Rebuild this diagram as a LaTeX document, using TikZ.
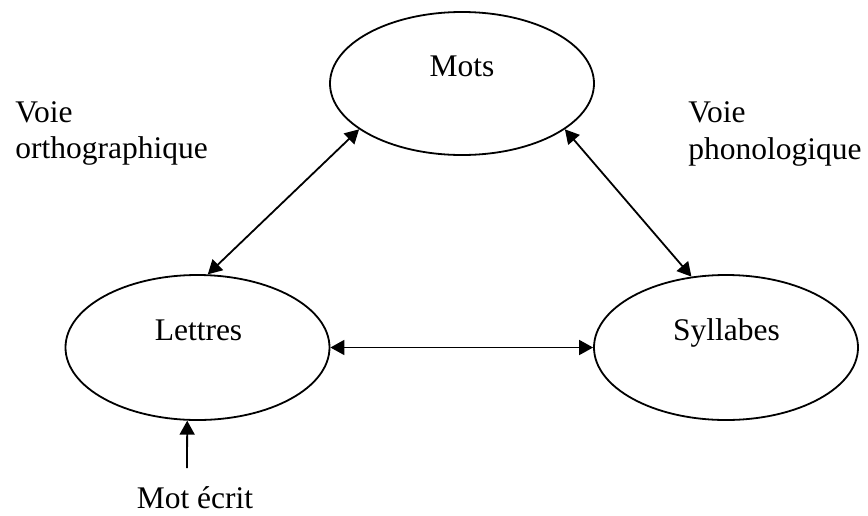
\documentclass[tikz,border=0pt]{standalone}
\usepackage{fontspec}
\setmainfont{Liberation Serif}
\usetikzlibrary{arrows.meta,shapes.geometric}
\begin{document}
\begin{tikzpicture}[x=0.5pt,y=-0.5pt,
  oval/.style={ellipse,draw,line width=0.9pt,minimum width=132pt,minimum height=72pt,inner sep=0pt},
  lbl/.style={font=\fontsize{15.75}{18}\selectfont,inner sep=0pt},
  link/.style={line width=0.9pt,arrows={Triangle[length=7pt,width=7.5pt]-Triangle[length=7pt,width=7.5pt]}},
  feed/.style={line width=0.9pt,arrows={-Triangle[length=7pt,width=7.5pt]}}]
\useasboundingbox (0,0) rectangle (868,515);

% the three units
\node[oval,minimum height=71.5pt] (mots) at (462,83.5) {};
\node[oval,minimum height=72.5pt] (lettres) at (197.5,347.5) {};
\node[oval,minimum height=72.5pt] (syllabes) at (726,347.5) {};

\node[lbl,anchor=base] (motsT) at (462,76) {Mots};
\node[lbl,anchor=base] (lettresT) at (198.5,340) {Lettres};
\node[lbl,anchor=base] (syllabesT) at (726.5,340) {Syllabes};

% route labels
\node[lbl,anchor=base west] (orthoA) at (15,122) {Voie};
\node[lbl,anchor=base west] (orthoB) at (15,158) {orthographique};
\node[lbl,anchor=base west] (phonoA) at (688,122) {Voie};
\node[lbl,anchor=base west] (phonoB) at (688,159) {phonologique};

% input
\node[lbl,anchor=base] (input) at (195,508) {Mot écrit};
\coordinate (inputTop) at (187,468);

% connections
\draw[link] (mots.204) -- (lettres.82.6);
\draw[link] (mots.336.2) -- (syllabes.116.4);
\draw[link] (lettres.east) -- (syllabes.west);
\draw[feed] (inputTop) -- (lettres.262);
\end{tikzpicture}
\end{document}
